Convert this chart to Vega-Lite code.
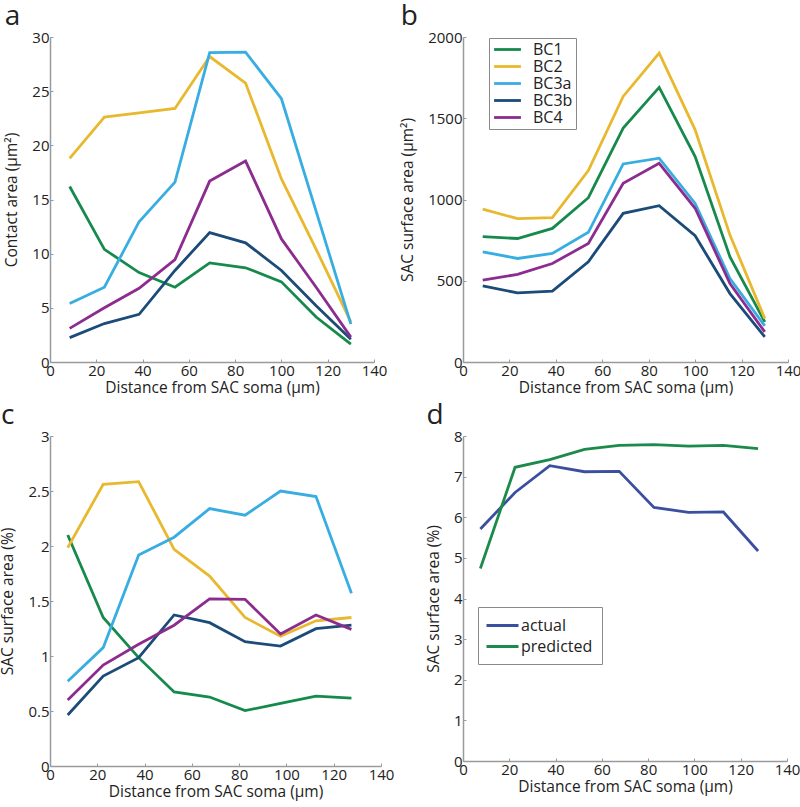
{
  "$schema": "https://vega.github.io/schema/vega-lite/v6.json",
  "background": "white",
  "padding": {"left": 0, "top": 3, "right": 5, "bottom": 5},
  "config": {
    "font": "Open Sans",
    "view": {"stroke": null},
    "axis": {
      "grid": false,
      "domainColor": "#9a9a9a",
      "domainWidth": 1.5,
      "tickColor": "#9a9a9a",
      "tickSize": -3,
      "labelColor": "#222222",
      "titleColor": "#222222",
      "labelFontSize": 15,
      "titleFontSize": 15.5,
      "titleFontWeight": "normal",
      "labelPadding": 4,
      "labelFlush": false,
      "labelOverlap": false
    },
    "axisX": {"titlePadding": 2},
    "axisY": {"titlePadding": 12},
    "title": {"fontSize": 28, "fontWeight": "normal", "anchor": "start", "color": "#222222", "offset": -1},
    "line": {"strokeWidth": 2.8},
    "legend": {
      "orient": "none",
      "title": null,
      "strokeColor": "#8a8a8a",
      "fillColor": "white",
      "symbolStrokeWidth": 3,
      "labelFontSize": 16,
      "labelColor": "#222222",
      "padding": 3,
      "rowPadding": 0
    }
  },
  "datasets": {
    "a": [
      {"x": 8.5, "s": "BC1", "v": 16.2}, {"x": 23.5, "s": "BC1", "v": 10.4}, {"x": 38.5, "s": "BC1", "v": 8.25}, {"x": 54, "s": "BC1", "v": 6.9}, {"x": 69, "s": "BC1", "v": 9.15}, {"x": 84.5, "s": "BC1", "v": 8.7}, {"x": 100, "s": "BC1", "v": 7.4}, {"x": 115, "s": "BC1", "v": 4.15}, {"x": 130, "s": "BC1", "v": 1.65},
      {"x": 8.5, "s": "BC2", "v": 18.8}, {"x": 23.5, "s": "BC2", "v": 22.6}, {"x": 38.5, "s": "BC2", "v": 23.0}, {"x": 54, "s": "BC2", "v": 23.4}, {"x": 69, "s": "BC2", "v": 28.2}, {"x": 84.5, "s": "BC2", "v": 25.75}, {"x": 100, "s": "BC2", "v": 16.9}, {"x": 115, "s": "BC2", "v": 10.4}, {"x": 130, "s": "BC2", "v": 3.7},
      {"x": 8.5, "s": "BC3a", "v": 5.4}, {"x": 23.5, "s": "BC3a", "v": 6.9}, {"x": 38.5, "s": "BC3a", "v": 12.95}, {"x": 54, "s": "BC3a", "v": 16.6}, {"x": 69, "s": "BC3a", "v": 28.55}, {"x": 84.5, "s": "BC3a", "v": 28.6}, {"x": 100, "s": "BC3a", "v": 24.3}, {"x": 115, "s": "BC3a", "v": 13.9}, {"x": 130, "s": "BC3a", "v": 3.5},
      {"x": 8.5, "s": "BC3b", "v": 2.25}, {"x": 23.5, "s": "BC3b", "v": 3.55}, {"x": 38.5, "s": "BC3b", "v": 4.4}, {"x": 54, "s": "BC3b", "v": 8.45}, {"x": 69, "s": "BC3b", "v": 11.95}, {"x": 84.5, "s": "BC3b", "v": 11.0}, {"x": 100, "s": "BC3b", "v": 8.45}, {"x": 115, "s": "BC3b", "v": 5.2}, {"x": 130, "s": "BC3b", "v": 2.1},
      {"x": 8.5, "s": "BC4", "v": 3.1}, {"x": 23.5, "s": "BC4", "v": 5.0}, {"x": 38.5, "s": "BC4", "v": 6.8}, {"x": 54, "s": "BC4", "v": 9.45}, {"x": 69, "s": "BC4", "v": 16.7}, {"x": 84.5, "s": "BC4", "v": 18.55}, {"x": 100, "s": "BC4", "v": 11.36}, {"x": 115, "s": "BC4", "v": 6.9}, {"x": 130, "s": "BC4", "v": 2.3}
    ],
    "b": [
      {"x": 8.5, "s": "BC1", "v": 771}, {"x": 23.5, "s": "BC1", "v": 760}, {"x": 38.5, "s": "BC1", "v": 822}, {"x": 54, "s": "BC1", "v": 1011}, {"x": 69, "s": "BC1", "v": 1439}, {"x": 84.5, "s": "BC1", "v": 1690}, {"x": 100, "s": "BC1", "v": 1264}, {"x": 115, "s": "BC1", "v": 647}, {"x": 130, "s": "BC1", "v": 247},
      {"x": 8.5, "s": "BC2", "v": 941}, {"x": 23.5, "s": "BC2", "v": 882}, {"x": 38.5, "s": "BC2", "v": 888}, {"x": 54, "s": "BC2", "v": 1178}, {"x": 69, "s": "BC2", "v": 1634}, {"x": 84.5, "s": "BC2", "v": 1901}, {"x": 100, "s": "BC2", "v": 1429}, {"x": 115, "s": "BC2", "v": 781}, {"x": 130, "s": "BC2", "v": 267},
      {"x": 8.5, "s": "BC3a", "v": 678}, {"x": 23.5, "s": "BC3a", "v": 637}, {"x": 38.5, "s": "BC3a", "v": 668}, {"x": 54, "s": "BC3a", "v": 798}, {"x": 69, "s": "BC3a", "v": 1219}, {"x": 84.5, "s": "BC3a", "v": 1254}, {"x": 100, "s": "BC3a", "v": 976}, {"x": 115, "s": "BC3a", "v": 514}, {"x": 130, "s": "BC3a", "v": 222},
      {"x": 8.5, "s": "BC3b", "v": 469}, {"x": 23.5, "s": "BC3b", "v": 425}, {"x": 38.5, "s": "BC3b", "v": 436}, {"x": 54, "s": "BC3b", "v": 617}, {"x": 69, "s": "BC3b", "v": 915}, {"x": 84.5, "s": "BC3b", "v": 962}, {"x": 100, "s": "BC3b", "v": 777}, {"x": 115, "s": "BC3b", "v": 421}, {"x": 130, "s": "BC3b", "v": 154},
      {"x": 8.5, "s": "BC4", "v": 504}, {"x": 23.5, "s": "BC4", "v": 539}, {"x": 38.5, "s": "BC4", "v": 606}, {"x": 54, "s": "BC4", "v": 730}, {"x": 69, "s": "BC4", "v": 1100}, {"x": 84.5, "s": "BC4", "v": 1223}, {"x": 100, "s": "BC4", "v": 946}, {"x": 115, "s": "BC4", "v": 483}, {"x": 130, "s": "BC4", "v": 185}
    ],
    "c": [
      {"x": 7.5, "s": "BC1", "v": 2.1}, {"x": 22.5, "s": "BC1", "v": 1.35}, {"x": 37.5, "s": "BC1", "v": 0.985}, {"x": 52.5, "s": "BC1", "v": 0.673}, {"x": 67.5, "s": "BC1", "v": 0.627}, {"x": 82.5, "s": "BC1", "v": 0.503}, {"x": 97.5, "s": "BC1", "v": 0.57}, {"x": 112.5, "s": "BC1", "v": 0.636}, {"x": 127.5, "s": "BC1", "v": 0.617},
      {"x": 7.5, "s": "BC2", "v": 1.985}, {"x": 22.5, "s": "BC2", "v": 2.56}, {"x": 37.5, "s": "BC2", "v": 2.585}, {"x": 52.5, "s": "BC2", "v": 1.97}, {"x": 67.5, "s": "BC2", "v": 1.727}, {"x": 82.5, "s": "BC2", "v": 1.35}, {"x": 97.5, "s": "BC2", "v": 1.18}, {"x": 112.5, "s": "BC2", "v": 1.32}, {"x": 127.5, "s": "BC2", "v": 1.35},
      {"x": 7.5, "s": "BC3a", "v": 0.77}, {"x": 22.5, "s": "BC3a", "v": 1.076}, {"x": 37.5, "s": "BC3a", "v": 1.918}, {"x": 52.5, "s": "BC3a", "v": 2.08}, {"x": 67.5, "s": "BC3a", "v": 2.34}, {"x": 82.5, "s": "BC3a", "v": 2.28}, {"x": 97.5, "s": "BC3a", "v": 2.5}, {"x": 112.5, "s": "BC3a", "v": 2.45}, {"x": 127.5, "s": "BC3a", "v": 1.57},
      {"x": 7.5, "s": "BC3b", "v": 0.464}, {"x": 22.5, "s": "BC3b", "v": 0.818}, {"x": 37.5, "s": "BC3b", "v": 0.985}, {"x": 52.5, "s": "BC3b", "v": 1.373}, {"x": 67.5, "s": "BC3b", "v": 1.303}, {"x": 82.5, "s": "BC3b", "v": 1.13}, {"x": 97.5, "s": "BC3b", "v": 1.09}, {"x": 112.5, "s": "BC3b", "v": 1.248}, {"x": 127.5, "s": "BC3b", "v": 1.28},
      {"x": 7.5, "s": "BC4", "v": 0.6}, {"x": 22.5, "s": "BC4", "v": 0.918}, {"x": 37.5, "s": "BC4", "v": 1.106}, {"x": 52.5, "s": "BC4", "v": 1.28}, {"x": 67.5, "s": "BC4", "v": 1.52}, {"x": 82.5, "s": "BC4", "v": 1.515}, {"x": 97.5, "s": "BC4", "v": 1.2}, {"x": 112.5, "s": "BC4", "v": 1.373}, {"x": 127.5, "s": "BC4", "v": 1.242}
    ],
    "d": [
      {"x": 7.5, "k": "actual", "v": 5.71}, {"x": 22.5, "k": "actual", "v": 6.61}, {"x": 37.5, "k": "actual", "v": 7.27}, {"x": 52.5, "k": "actual", "v": 7.12}, {"x": 67.5, "k": "actual", "v": 7.13}, {"x": 82.5, "k": "actual", "v": 6.24}, {"x": 97.5, "k": "actual", "v": 6.12}, {"x": 112.5, "k": "actual", "v": 6.13}, {"x": 127.5, "k": "actual", "v": 5.17},
      {"x": 7.5, "k": "predicted", "v": 4.74}, {"x": 22.5, "k": "predicted", "v": 7.23}, {"x": 37.5, "k": "predicted", "v": 7.42}, {"x": 52.5, "k": "predicted", "v": 7.67}, {"x": 67.5, "k": "predicted", "v": 7.77}, {"x": 82.5, "k": "predicted", "v": 7.79}, {"x": 97.5, "k": "predicted", "v": 7.75}, {"x": 112.5, "k": "predicted", "v": 7.77}, {"x": 127.5, "k": "predicted", "v": 7.69}
    ]
  },
  "columns": 2,
  "bounds": "flush",
  "spacing": {"row": 74, "column": 82},
  "resolve": {"scale": {"color": "independent"}},
  "concat": [
    {
      "title": {"text": "a"},
      "width": 324,
      "height": 325,
      "data": {"name": "a"},
      "mark": {"type": "line"},
      "encoding": {
        "x": {"field": "x", "type": "quantitative", "scale": {"domain": [0, 140], "nice": false}, "axis": {"values": [0, 20, 40, 60, 80, 100, 120, 140], "title": "Distance from SAC soma (μm)"}},
        "y": {"field": "v", "type": "quantitative", "scale": {"domain": [0, 30], "nice": false}, "axis": {"values": [0, 5, 10, 15, 20, 25, 30], "title": "Contact area (μm²)"}},
        "color": {"field": "s", "type": "nominal", "scale": {"domain": ["BC1", "BC2", "BC3a", "BC3b", "BC4"], "range": ["#168a4c", "#e8b92e", "#38ade2", "#1b4b78", "#8c2c8e"]}, "legend": null}
      }
    },
    {
      "title": {"text": "b"},
      "width": 325,
      "height": 325,
      "data": {"name": "b"},
      "mark": {"type": "line"},
      "encoding": {
        "x": {"field": "x", "type": "quantitative", "scale": {"domain": [0, 140], "nice": false}, "axis": {"values": [0, 20, 40, 60, 80, 100, 120, 140], "title": "Distance from SAC soma (μm)"}},
        "y": {"field": "v", "type": "quantitative", "scale": {"domain": [0, 2000], "nice": false}, "axis": {"values": [0, 500, 1000, 1500, 2000], "format": "d", "title": "SAC surface area (μm²)"}},
        "color": {"field": "s", "type": "nominal", "scale": {"domain": ["BC1", "BC2", "BC3a", "BC3b", "BC4"], "range": ["#168a4c", "#e8b92e", "#38ade2", "#1b4b78", "#8c2c8e"]}, "legend": {"legendX": 26, "legendY": 1, "symbolType": "M-2,0H2", "symbolSize": 180, "symbolOffset": 7, "labelOffset": 17, "labelFontSize": 16}}
      }
    },
    {
      "title": {"text": "c"},
      "width": 331,
      "height": 330,
      "data": {"name": "c"},
      "mark": {"type": "line"},
      "encoding": {
        "x": {"field": "x", "type": "quantitative", "scale": {"domain": [0, 140], "nice": false}, "axis": {"values": [0, 20, 40, 60, 80, 100, 120, 140], "title": "Distance from SAC soma (μm)"}},
        "y": {"field": "v", "type": "quantitative", "scale": {"domain": [0, 3], "nice": false}, "axis": {"values": [0, 0.5, 1, 1.5, 2, 2.5, 3], "format": "~g", "title": "SAC surface area (%)"}},
        "color": {"field": "s", "type": "nominal", "scale": {"domain": ["BC1", "BC2", "BC3a", "BC3b", "BC4"], "range": ["#168a4c", "#e8b92e", "#38ade2", "#1b4b78", "#8c2c8e"]}, "legend": null}
      }
    },
    {
      "title": {"text": "d"},
      "width": 324,
      "height": 325,
      "data": {"name": "d"},
      "mark": {"type": "line"},
      "encoding": {
        "x": {"field": "x", "type": "quantitative", "scale": {"domain": [0, 140], "nice": false}, "axis": {"values": [0, 20, 40, 60, 80, 100, 120, 140], "title": "Distance from SAC soma (μm)"}},
        "y": {"field": "v", "type": "quantitative", "scale": {"domain": [0, 8], "nice": false}, "axis": {"values": [0, 1, 2, 3, 4, 5, 6, 7, 8], "title": "SAC surface area (%)"}},
        "color": {"field": "k", "type": "nominal", "scale": {"domain": ["actual", "predicted"], "range": ["#3b4f9f", "#1c8a4b"]}, "legend": {"legendX": 15, "legendY": 171, "padding": 9, "symbolType": "M-2,0H2", "symbolSize": 256, "symbolOffset": 6, "labelOffset": 9, "labelFontSize": 16, "rowPadding": 3}}
      }
    }
  ]
}
